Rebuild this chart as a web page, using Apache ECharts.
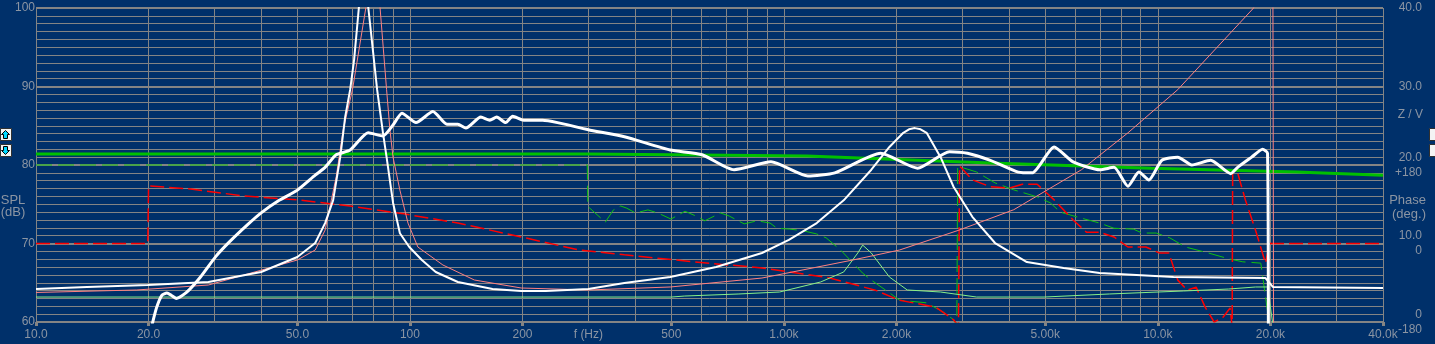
<!DOCTYPE html>
<html><head><meta charset="utf-8">
<script src="https://cdn.jsdelivr.net/npm/echarts@6/dist/echarts.min.js"></script>
<style>html,body{margin:0;padding:0;background:#00306a;overflow:hidden}#c{width:1435px;height:344px}</style>
</head><body><div id="c"></div>
<script>
// ---- tick labels ----
const xTickValues = [10, 20, 50, 100, 200, 300, 500, 1000, 2000, 5000, 10000, 20000, 40000];
const xTickLabels = ['10.0', '20.0', '50.0', '100', '200', 'f (Hz)', '500', '1.00k', '2.00k', '5.00k', '10.0k', '20.0k', '40.0k'];
const xTickMarks = [10, 20, 50, 100, 200, 500, 1000, 2000, 5000, 10000, 20000, 40000];
const xGridFreqs = [10,20,30,40,50,60,70,80,90,100,200,300,400,500,600,700,800,900,1000,2000,3000,4000,5000,6000,7000,8000,9000,10000,20000,30000,40000];
const splTickValues = [60, 70, 80, 90, 100];
const splTickLabels = ['60', '70', '80', '90', '100'];
const zTickValues = [0, 10, 20, 30, 40];
const zTickLabels = ['0', '10.0', '20.0', '30.0', '40.0'];
const phaseTickValues = [-180, 0, 180];
const phaseTickLabels = ['-180', '0', '+180'];

// ---- SPL (thick white), dB ----
const splFreq = [20.4,21.0,21.7,22.4,23.0,23.7,25.3,27.5,30.2,32.9,36.8,40.0,44.7,50.0,55.8,59.3,63.5,69.2,77.3,84.7,90.1,95.2,103.8,115.2,125.6,134.3,141.1,154.7,163.5,170.6,180.3,188.2,201.4,226.3,248.1,300,374.5,496.6,604.4,735.6,923.5,1159,1368,1814,2277,2772,3096,3565,4234,4613,5280,5934,7002,7632,8318,8898,9462,10250,11305,12324,13846,15655,16345,17816,19055,19648,19750];
const splDb = [59.5,61.8,63.4,63.7,63.4,63.0,63.8,65.7,68.3,70.2,72.4,73.9,75.5,76.8,78.7,79.7,81.3,81.9,84.1,83.7,85.1,86.6,85.4,86.8,85.2,85.2,84.7,86.1,85.7,86.1,85.4,86.2,85.7,85.7,85.4,84.5,83.6,81.9,81.3,79.4,80.4,78.6,79.0,81.5,79.6,81.7,81.5,80.6,79.1,79.0,82.3,80.4,79.4,79.7,77.3,79.1,78.1,80.6,81.0,80.0,80.6,78.9,79.7,81.0,82.0,81.5,55];

// ---- Impedance (white), ohm ----
const zFreq = [10,13.7,19.9,28.9,40.0,50.0,55.8,59.3,62.3,65.1,67.1,69.2,70.9,73.0,75.2,77.4,81.7,84.7,86.6,90.1,94.0,99.6,107.6,117.2,134.3,166.3,198.4,231,300,374.5,496.6,658.5,873.5,1031,1224,1445,1713,1915,2086,2160,2240,2320,2408,2624,2844,3191,3670,4464,5598,6984,11010,19400,20300,40000];
const zOhm = [4.20,4.46,4.71,5.10,6.37,8.28,10.06,12.6,15.5,21.0,26.1,29.6,33.4,40,47,40,29.6,24.1,21.0,15.2,11.3,9.55,7.9,6.37,5.10,4.20,3.95,3.95,4.20,4.97,5.73,7.0,8.79,10.45,12.6,15.5,19.4,22.3,24.1,24.55,24.7,24.55,24.1,21.0,17.2,13.4,10.06,7.64,6.88,6.24,5.73,5.6,4.46,4.33];

// ---- Impedance 2 (pink), ohm ----
const pinkFreq = [10,18.6,28.9,50,55.8,59.3,63.5,66.3,70.2,76.2,79.6,83.2,86.6,88.4,90.1,94.0,98.8,105,122.5,148.7,198.4,300,496.6,873.5,1529,2038,2938,4117,6249,8318,11305,18030,20300,20400];
const pinkOhm = [3.76,4.08,4.71,7.9,9.17,11.7,18.5,24.5,29.6,40,50,40,29.6,24.5,21.0,16.8,12.6,9.55,7.26,5.35,4.33,4.08,4.46,5.6,7.9,9.17,11.7,14.3,19.4,24.1,29.6,40,46,-5];

// ---- Impedance 3 (pale green), ohm ----
const paleFreq = [10,500,543,758,974,1254,1445,1576,1624,1713,1915,2137,2624,3275,4962,7428,11700,15460,18250,19650,20400];
const paleOhm = [3.18,3.18,3.31,3.57,3.82,5.10,6.37,8.79,9.8,8.79,5.73,4.08,3.82,3.18,3.18,3.57,3.95,4.20,4.46,4.46,-1];

// ---- Reference (thick green), dB ----
const refFreq = [10,300,1152,3565,9580,23480,40000];
const refDb = [81.4,81.4,81.15,80.25,79.6,79.1,78.7];

// ---- Phase (green), deg ----
const gPhFreq = [10,298,299,333,350,366,380,401,433,460,499,544,589,614,677,714,783,848,918,958,1036,1128,1222,1297,1418,1624,1713,1915,2038,2408,2688,2844,2900,2915,3030,3275,3670,4117,4757,5160,5485,6249,6984,7632,8600,9070,9900,10760,11850,13680,15460,16865,18850,19900];
const gPhDeg = [180,180,85,49,77,86,81,70,77,70,56,74,61,52,70,63,45,52,47,35,33,29,22,13,-15,-68,-84,-113,-130,-136,-159,-175,-190,175,173,164,139,123,107,93,72,58,47,35,33,24,24,13,-8,-22,-35,-42,-45,-190];

// ---- Phase (red), deg ----
const rPhFreq = [10,19.9,20.0,25.9,35.9,50,69.2,96.3,134.3,198.4,283,374.5,572,873.5,1327,1755,2038,2545,2844,2930,2950,3191,3565,4006,4341,4757,5280,5934,6440,6984,7632,8318,9290,10120,10700,11305,11990,12660,13380,14140,14940,15600,15800,15850,16345,17140,18240,19400,19900,40000];
const rPhDeg = [0,0,132,125,109,100,86,68,47,15,-15,-26,-42,-56,-79,-107,-130,-146,-175,-190,178,146,130,127,136,136,100,54,26,26,15,-8,-8,-22,-22,-84,-107,-100,-146,-180,-169,-148,-190,162,162,100,31,-45,0,0];

function pairs(f, v) { return f.map((x, i) => [x, v[i]]); }
function lookup(vals, labels, v) {
  for (let i = 0; i < vals.length; i++) if (Math.abs(vals[i] - v) < 1e-6 * Math.max(1, Math.abs(v))) return labels[i];
  return '';
}

const gridColor = '#848484';
const labelColor = '#8b95a3';
const font = '"Liberation Sans", Arial, sans-serif';

const chart = echarts.init(document.getElementById('c'), null, { renderer: 'canvas' });

function line(name, data, yIdx, color, width, type, z, smooth) {
  return {
    name, type: 'line', data, yAxisIndex: yIdx, showSymbol: false, symbol: 'none',
    smooth: smooth || false,
    lineStyle: { color, width, type: type || 'solid' }, clip: true, z: z || 3,
    animation: false, silent: true, emphasis: { disabled: true }
  };
}

const option = {
  backgroundColor: '#00306a',
  animation: false,
  grid: { left: 36, right: 52, top: 8, bottom: 22, containLabel: false },
  xAxis: [
    {
      type: 'log', logBase: 10, min: 10, max: 40000, position: 'bottom',
      axisLine: { show: true, onZero: false, lineStyle: { color: gridColor, width: 1 } },
      axisTick: { show: false, customValues: xGridFreqs },
      axisLabel: {
        customValues: xTickValues, color: labelColor, fontSize: 12, fontFamily: font, margin: 7,
        formatter: v => lookup(xTickValues, xTickLabels, v)
      },
      splitLine: { show: true, lineStyle: { color: gridColor, width: 1, opacity: 1 } }
    },
    {
      type: 'log', logBase: 10, min: 10, max: 40000, position: 'bottom',
      axisLine: { show: false, onZero: false },
      axisTick: { show: true, customValues: xTickMarks, length: 4, lineStyle: { color: gridColor, width: 3 } },
      axisLabel: { show: false },
      splitLine: { show: false }
    }
  ],
  yAxis: [
    {
      type: 'value', min: 60, max: 100, interval: 1, position: 'left',
      axisLine: { show: true, onZero: false, lineStyle: { color: gridColor } },
      axisTick: { show: false },
      axisLabel: { color: labelColor, fontSize: 12, fontFamily: font, margin: 1, interval: 0, hideOverlap: false,
        formatter: v => lookup(splTickValues, splTickLabels, v) },
      splitLine: { show: true, lineStyle: { color: gridColor, width: 1, opacity: 1 } }
    },
    {
      type: 'value', min: 0, max: 40, interval: 10, position: 'right',
      axisLine: { show: false }, axisTick: { show: false },
      splitLine: { show: true, lineStyle: { color: gridColor, width: 2, opacity: 1 } },
      axisLabel: {
        align: 'right', margin: 39, color: labelColor, fontSize: 12, fontFamily: font,
        formatter: v => {
          const t = lookup(zTickValues, zTickLabels, v);
          return v <= 20 ? '{u|' + t + '}' : t;
        },
        rich: { u: { padding: [0, 0, 15, 0], color: labelColor, fontSize: 12, fontFamily: font } }
      }
    },
    {
      type: 'value', min: -180, max: 540, interval: 180, position: 'right',
      axisLine: { show: false }, axisTick: { show: false }, splitLine: { show: false },
      axisLabel: {
        align: 'right', margin: 39, color: labelColor, fontSize: 12, fontFamily: font,
        formatter: v => {
          const t = lookup(phaseTickValues, phaseTickLabels, v);
          return t ? '{d|' + t + '}' : '';
        },
        rich: { d: { padding: [15, 0, 0, 0], color: labelColor, fontSize: 12, fontFamily: font } }
      }
    }
  ],
  graphic: [
    { type: 'text', style: { x: 13, y: 200, text: 'SPL', fill: labelColor, font: '13px ' + font, textAlign: 'center', textVerticalAlign: 'middle' } },
    { type: 'text', style: { x: 13, y: 212, text: '(dB)', fill: labelColor, font: '13px ' + font, textAlign: 'center', textVerticalAlign: 'middle' } },
    { type: 'text', style: { x: 1423, y: 115, text: 'Z / V', fill: labelColor, font: '12px ' + font, textAlign: 'right', textVerticalAlign: 'middle' } },
    { type: 'text', style: { x: 1426, y: 200, text: 'Phase', fill: labelColor, font: '13px ' + font, textAlign: 'right', textVerticalAlign: 'middle' } },
    { type: 'text', style: { x: 1426, y: 214, text: '(deg.)', fill: labelColor, font: '13px ' + font, textAlign: 'right', textVerticalAlign: 'middle' } },
    { type: 'rect', shape: { x: 0.5, y: 128.5, width: 11, height: 12 }, style: { fill: '#f4f4f4', stroke: '#303030', lineWidth: 1 } },
    { type: 'rect', shape: { x: 0.5, y: 144.5, width: 11, height: 12 }, style: { fill: '#f4f4f4', stroke: '#303030', lineWidth: 1 } },
    { type: 'polygon', shape: { points: [[5.5, 130.5], [9.5, 134.5], [7.5, 134.5], [7.5, 138.5], [3.5, 138.5], [3.5, 134.5], [1.5, 134.5]] }, style: { fill: '#00d8ff', stroke: '#000', lineWidth: 1 } },
    { type: 'polygon', shape: { points: [[5.5, 154.5], [9.5, 150.5], [7.5, 150.5], [7.5, 146.5], [3.5, 146.5], [3.5, 150.5], [1.5, 150.5]] }, style: { fill: '#00d8ff', stroke: '#000', lineWidth: 1 } },
    { type: 'rect', shape: { x: 1429.5, y: 128.5, width: 11, height: 12 }, style: { fill: '#f4f4f4', stroke: '#303030', lineWidth: 1 } },
    { type: 'rect', shape: { x: 1429.5, y: 144.5, width: 11, height: 12 }, style: { fill: '#f4f4f4', stroke: '#303030', lineWidth: 1 } }
  ],
  series: [
    line('ref', pairs(refFreq, refDb), 0, '#00c000', 3, 'solid', 3),
    line('phaseGreen', pairs(gPhFreq, gPhDeg), 2, '#10c010', 1, [16, 6], 4),
    line('phaseRed', pairs(rPhFreq, rPhDeg), 2, '#ff0000', 1.5, [14, 5], 4),
    line('zPale', pairs(paleFreq, paleOhm), 1, '#88f088', 1, 'solid', 5),
    line('zPink', pairs(pinkFreq, pinkOhm), 1, '#ff8080', 1, 'solid', 5),
    line('z', pairs(zFreq, zOhm), 1, '#ffffff', 2, 'solid', 6),
    line('spl', pairs(splFreq, splDb), 0, '#ffffff', 3, 'solid', 7, 0.2)
  ]
};
chart.setOption(option);
</script>
</body></html>
